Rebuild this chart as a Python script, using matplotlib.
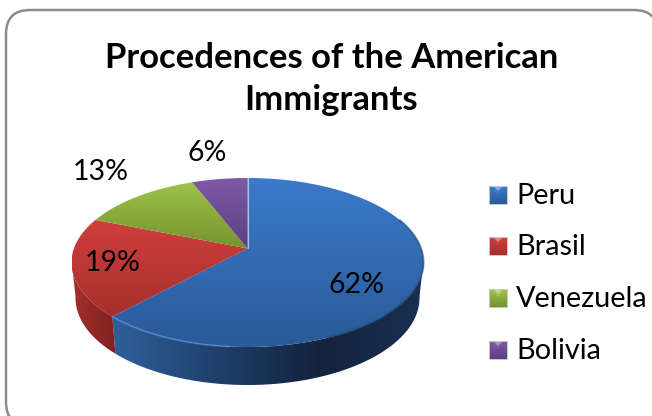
import numpy as np
import matplotlib
matplotlib.use('Agg')
import matplotlib.pyplot as plt
from matplotlib.patches import FancyBboxPatch, Polygon
from matplotlib.colors import LinearSegmentedColormap

plt.rcParams['font.family'] = ['Lato', 'DejaVu Sans']

title = 'Procedences of the American\nImmigrants'
categories = ['Peru', 'Brasil', 'Venezuela', 'Bolivia']
values = [62, 19, 13, 6]

# colours: top of slice, bottom of slice
top_cols = [('#3b7aca', '#2a5a98'), ('#cf3f3c', '#a52f2d'), ('#9fc34a', '#76942f'), ('#7f5aa6', '#5c3f80')]
side_cols = [['#2f609c', '#1f406c', '#13233c', '#1a3050'], ['#a52e2b', '#7e2220'], ['#76942f', '#5a7124'], ['#5c3f80', '#45305f']]
legend_ys = [195, 246, 298, 350]

# pie geometry in pixels
cx, cy, rx, ry = 247.5, 262.5, 176, 84.5
cx_b, cy_b, rx_b, ry_b = 247.5, 298, 172, 87
tilt = 0.166


def project(theta):
    # circle -> circle homography so the apex sits above the ellipse centre
    u, v = np.sin(theta), np.cos(theta)
    d = 1 + tilt * v
    return u * np.sqrt(1 - tilt ** 2) / d, (v + tilt) / d


def grad_fill(ax, verts, cols, horizontal=False):
    poly = Polygon(verts, closed=True, fc='none', ec='none')
    ax.add_patch(poly)
    cmap = LinearSegmentedColormap.from_list('g', cols)
    g = np.linspace(0, 1, 256)
    g = g[None, :] if horizontal else g[:, None]
    x0, x1 = verts[:, 0].min(), verts[:, 0].max()
    y0, y1 = verts[:, 1].min(), verts[:, 1].max()
    im = ax.imshow(g, cmap=cmap, extent=(x0, x1, y1, y0), aspect='auto', zorder=2, interpolation='bilinear')
    im.set_clip_path(poly)


fig = plt.figure(figsize=(6.52, 4.16), dpi=100)
ax = fig.add_axes([0, 0, 1, 1])

edges = np.cumsum([0] + values) / np.sum(values) * 2 * np.pi

# sides first
for i in range(len(values)):
    th = np.linspace(edges[i], edges[i + 1], 300)
    x, y = project(th)
    keep = y <= 0.02
    if keep.sum() < 2:
        continue
    x, y = x[keep], y[keep]
    up = np.column_stack([cx + rx * x, cy - ry * y])
    low = np.column_stack([cx_b + rx_b * x, cy_b - ry_b * y])
    grad_fill(ax, np.vstack([up, low[::-1]]), side_cols[i], horizontal=True)

# top faces
for i in range(len(values)):
    th = np.linspace(edges[i], edges[i + 1], 300)
    x, y = project(th)
    arc = np.column_stack([cx + rx * x, cy - ry * y])
    apex = [cx, cy - ry * tilt]
    grad_fill(ax, np.vstack([[apex], arc]), top_cols[i])

# bevel highlight on front left rim, dark edge on the right
th = np.linspace(edges[0], edges[1], 300)
x, y = project(th)
px, py = cx + rx * x, cy - ry * y
left = (y < 0) & (x < -0.1)
ax.plot(px[left], py[left], color='#5b8fd0', lw=1.2, alpha=0.7, zorder=3)
right = (x > 0.45) & (y < 0.5)
ax.plot(px[right], py[right], color='#1f4270', lw=1.4, alpha=0.6, zorder=3)
ax.plot([cx, cx], [cy - ry * tilt, cy - ry], color='#a9c4e6', lw=0.8, zorder=3)

# percent labels
label_pos = [(357, 285), (113, 263), (101, 172), (207, 153)]
for v, (lx, ly) in zip(values, label_pos):
    ax.text(lx, ly, '%d%%' % v, fontsize=20.5, color='black', ha='center', va='center', zorder=5)

# legend
for i, name in enumerate(categories):
    ly = legend_ys[i]
    sq = np.array([[489, ly - 9], [507, ly - 9], [507, ly + 9], [489, ly + 9]])
    grad_fill(ax, sq, top_cols[i])
    ax.add_patch(Polygon(sq, closed=True, fc='none', ec='#c8c8c8', lw=0.7, zorder=3))
    ax.add_patch(Polygon([[491, ly - 8], [505, ly - 8], [498, ly - 1]], closed=True, fc=top_cols[i][0], ec='none', alpha=0.9, zorder=3))
    ax.add_patch(Polygon([[494, ly - 8], [502, ly - 8], [498, ly - 4]], closed=True, fc='white', ec='none', alpha=0.35, zorder=4))
    ax.text(516, ly + 1, name, fontsize=20.8, color='black', ha='left', va='center', zorder=5)

ax.text(331.5, 79, title, fontsize=24.9, fontweight='bold', color='black', ha='center', va='center', linespacing=1.4, zorder=5)

# chart frame, runs off the right and bottom of the picture
ax.add_patch(FancyBboxPatch((6, 10), 652, 416, boxstyle='round,pad=0,rounding_size=24', fc='white', ec='#8c8c8c', lw=1.8, zorder=0))

ax.set_xlim(0, 652)
ax.set_ylim(416, 0)
ax.axis('off')

fig.savefig('out.png', dpi=100)
